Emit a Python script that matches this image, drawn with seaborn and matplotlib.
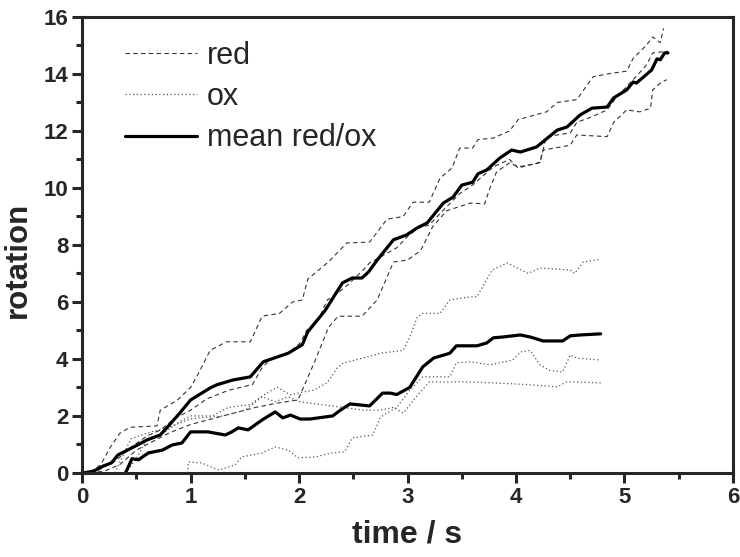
import numpy as np
import pandas as pd
import matplotlib
matplotlib.use('Agg')
import matplotlib.pyplot as plt
from matplotlib.ticker import MultipleLocator
import seaborn as sns

# red runs (dashed)
red_a_t = [0, 0.1, 0.17, 0.26, 0.35, 0.44, 0.69, 0.72, 0.88, 1.0, 1.06, 1.18, 1.33, 1.55, 1.66, 1.82, 1.94, 2.03, 2.08,
           2.27, 2.44, 2.65, 2.75, 2.81, 2.96, 3.05, 3.2, 3.3, 3.41, 3.48, 3.6, 3.65, 3.79, 3.94, 4.02, 4.28, 4.38,
           4.56, 4.71, 4.84, 5.02, 5.08, 5.2, 5.26, 5.33, 5.36]
red_a_r = [0, 0.1, 0.28, 0.9, 1.4, 1.6, 1.65, 2.2, 2.56, 3.0, 3.4, 4.3, 4.6, 4.6, 5.5, 5.6, 6.0, 6.07, 6.8,
           7.4, 8.07, 8.1, 8.6, 8.9, 9.0, 9.5, 9.5, 10.35, 10.7, 11.4, 11.4, 11.7, 11.75, 12.0, 12.4, 12.67, 13.0,
           13.1, 13.9, 14.0, 14.1, 14.55, 15.0, 15.3, 15.1, 15.6]

red_b_t = [0, 0.15, 0.3, 0.45, 0.6, 0.72, 0.85, 1.0, 1.15, 1.35, 1.57, 1.66, 1.73, 1.9, 2.01, 2.07, 2.19, 2.26, 2.31,
           2.45, 2.59, 2.65, 2.75, 2.9, 3.0, 3.1, 3.2, 3.35, 3.48, 3.6, 3.79, 3.94, 4.02, 4.22, 4.28, 4.5, 4.56,
           4.7, 4.84, 4.93, 5.08, 5.2, 5.26, 5.33, 5.4]
red_b_r = [0, 0.1, 0.4, 0.9, 1.3, 1.5, 1.9, 2.2, 2.6, 2.9, 3.1, 3.7, 3.96, 4.2, 4.56, 5.0, 5.47, 6.07, 6.18,
           6.6, 7.12, 7.37, 7.58, 7.9, 8.3, 8.6, 8.7, 9.3, 9.8, 10.1, 10.74, 11.0, 10.7, 10.9, 11.8, 11.93, 12.3,
           12.5, 12.74, 13.2, 13.8, 14.3, 14.74, 14.77, 14.8]

red_c_t = [0, 0.2, 0.35, 0.5, 0.65, 0.8, 1.0, 1.2, 1.4, 1.6, 1.8, 1.99, 2.15, 2.27, 2.36, 2.58, 2.72, 2.87, 3.0,
           3.12, 3.23, 3.36, 3.58, 3.71, 3.76, 3.82, 3.94, 4.02, 4.22, 4.25, 4.5, 4.56, 4.84, 4.9, 5.02, 5.14,
           5.24, 5.26, 5.33, 5.39]
red_c_r = [0, 0.05, 0.3, 0.8, 1.1, 1.4, 1.7, 1.9, 2.1, 2.3, 2.45, 2.56, 3.96, 5.1, 5.5, 5.5, 6.07, 7.4, 7.47,
           7.8, 8.63, 9.2, 9.47, 9.44, 10.0, 10.56, 10.88, 10.74, 10.88, 11.33, 11.5, 11.86, 11.8, 12.3, 12.74, 12.67,
           12.8, 13.44, 13.68, 13.8]

# ox runs (dotted)
ox_a_t = [0.4, 0.5, 0.6, 0.75, 0.9, 1.0, 1.2, 1.35, 1.55, 1.7, 1.8, 1.92, 2.04, 2.13, 2.26, 2.35, 2.41, 2.63, 2.75,
          2.96, 3.02, 3.09, 3.14, 3.3, 3.39, 3.58, 3.64, 3.78, 3.92, 4.11, 4.22, 4.5, 4.54, 4.62, 4.78]
ox_a_r = [0, 0.5, 1.2, 1.4, 1.8, 2.0, 2.0, 2.3, 2.4, 2.8, 3.0, 2.74, 2.84, 2.9, 3.16, 3.68, 3.86, 4.07, 4.2,
          4.3, 4.77, 5.47, 5.6, 5.6, 6.07, 6.18, 6.18, 7.12, 7.37, 7.0, 7.19, 7.12, 7.0, 7.4, 7.5]

ox_b_t = [0.3, 0.45, 0.6, 0.8, 1.0, 1.3, 1.5, 1.66, 1.78, 1.9, 2.0, 2.2, 2.4, 2.6, 2.75, 2.87, 2.96, 3.08, 3.2,
          3.42, 3.48, 3.79, 4.1, 4.38, 4.47, 4.78]
ox_b_r = [0, 1.2, 1.4, 1.6, 1.9, 2.0, 2.2, 2.67, 2.5, 2.67, 2.5, 2.4, 2.3, 2.2, 2.2, 2.3, 2.1, 2.67, 3.19,
          3.19, 3.2, 3.16, 3.1, 3.02, 3.2, 3.16]

ox_c_t = [0.97, 0.98, 1.1, 1.26, 1.41, 1.47, 1.66, 1.78, 1.9, 1.99, 2.15, 2.3, 2.42, 2.49, 2.68, 2.75, 2.9, 3.02,
          3.14, 3.39, 3.45, 3.58, 3.76, 3.97, 4.04, 4.13, 4.22, 4.31, 4.43, 4.5, 4.56, 4.78]
ox_c_r = [0, 0.38, 0.35, 0.1, 0.28, 0.56, 0.7, 0.91, 0.8, 0.53, 0.56, 0.7, 0.74, 1.23, 1.33, 1.96, 2.3, 2.9,
          3.37, 3.37, 3.86, 3.9, 3.79, 3.96, 4.24, 4.3, 3.79, 3.6, 3.54, 4.14, 4.03, 3.96]

# means (solid)
mean_red_t = [0, 0.1, 0.2, 0.27, 0.33, 0.47, 0.6, 0.72, 0.78, 0.9, 1.0, 1.18, 1.24, 1.39, 1.55, 1.67, 1.8, 1.9,
              2.03, 2.08, 2.24, 2.4, 2.49, 2.58, 2.64, 2.72, 2.87, 2.99, 3.09, 3.18, 3.33, 3.42, 3.5, 3.6, 3.65,
              3.73, 3.85, 3.96, 4.04, 4.19, 4.38, 4.47, 4.59, 4.7, 4.84, 4.9, 5.02, 5.08, 5.11, 5.25, 5.3, 5.33,
              5.37, 5.4]
mean_red_r = [0, 0.05, 0.25, 0.35, 0.63, 0.9, 1.16, 1.33, 1.58, 2.1, 2.56, 2.98, 3.09, 3.26, 3.37, 3.9, 4.07, 4.2,
              4.5, 4.95, 5.7, 6.67, 6.84, 6.84, 7.05, 7.47, 8.18, 8.35, 8.6, 8.77, 9.47, 9.68, 10.1, 10.2, 10.5,
              10.63, 11.05, 11.33, 11.26, 11.44, 12.03, 12.14, 12.56, 12.8, 12.84, 13.16, 13.44, 13.72, 13.68, 14.14,
              14.53, 14.5, 14.74, 14.74]

mean_ox_t = [0.4, 0.46, 0.52, 0.61, 0.74, 0.83, 0.92, 1.0, 1.16, 1.32, 1.38, 1.44, 1.53, 1.66, 1.78, 1.85, 1.92,
             2.01, 2.1, 2.31, 2.38, 2.47, 2.65, 2.77, 2.84, 2.9, 3.02, 3.14, 3.24, 3.39, 3.45, 3.64, 3.73, 3.79,
             3.88, 4.04, 4.13, 4.25, 4.43, 4.5, 4.59, 4.78]
mean_ox_r = [0, 0.5, 0.46, 0.7, 0.8, 0.98, 1.05, 1.44, 1.44, 1.33, 1.44, 1.58, 1.51, 1.86, 2.14, 1.93, 2.03,
             1.89, 1.89, 2.0, 2.2, 2.42, 2.35, 2.8, 2.8, 2.75, 3.0, 3.72, 4.03, 4.2, 4.46, 4.46, 4.56, 4.74,
             4.77, 4.84, 4.77, 4.63, 4.63, 4.81, 4.84, 4.88]

sns.set_style('ticks')
plt.rcParams['font.family'] = ['Liberation Sans', 'DejaVu Sans']

fig = plt.figure(figsize=(7.4, 5.57), dpi=100)
ax = fig.add_axes([0.111, 0.151, 0.8795, 0.8185])

runs = [
    (red_a_t, red_a_r, 'red', (0, (4, 3)), '#333333', 0.8),
    (red_b_t, red_b_r, None, (0, (4, 3)), '#333333', 0.8),
    (red_c_t, red_c_r, None, (0, (4, 3)), '#333333', 0.8),
    (ox_a_t, ox_a_r, 'ox', (0, (1, 2)), '#555555', 0.9),
    (ox_b_t, ox_b_r, None, (0, (1, 2)), '#555555', 0.9),
    (ox_c_t, ox_c_r, None, (0, (1, 2)), '#555555', 0.9),
    (mean_red_t, mean_red_r, 'mean red/ox', '-', 'black', 2.3),
    (mean_ox_t, mean_ox_r, None, '-', 'black', 2.3),
]
for t, r, lab, ls, col, lw in runs:
    df = pd.DataFrame({'time': t, 'rotation': r})
    sns.lineplot(data=df, x='time', y='rotation', ax=ax, color=col, linestyle=ls,
                 linewidth=lw, label=lab, legend=False, sort=False, estimator=None)

ax.set_xlim(0, 6)
ax.set_ylim(0, 16)
ax.xaxis.set_major_locator(MultipleLocator(1))
ax.xaxis.set_minor_locator(MultipleLocator(0.5))
ax.yaxis.set_major_locator(MultipleLocator(2))
ax.yaxis.set_minor_locator(MultipleLocator(1))
ax.tick_params(which='major', direction='out', length=7, width=2.2, labelsize=16, pad=3)
ax.tick_params(which='minor', direction='out', length=4, width=2.2)
ax.tick_params(top=False, right=False)
for lbl in ax.get_xticklabels() + ax.get_yticklabels():
    lbl.set_fontweight('bold')
for sp in ax.spines.values():
    sp.set_linewidth(2.2)
    sp.set_visible(True)

ax.set_xlabel('time / s', fontsize=23, fontweight='bold')
ax.set_ylabel('rotation', fontsize=22.5, fontweight='bold')
ax.xaxis.set_label_coords(0.5, -0.102)
ax.yaxis.set_label_coords(-0.075, 0.467)

handles, labels = ax.get_legend_handles_labels()
ax.legend(handles, labels, loc='upper left', bbox_to_anchor=(0.024, 1.008), frameon=False,
          prop={'size': 22}, handlelength=2.35, handletextpad=0.33, labelspacing=0.37)

fig.savefig('out.png', dpi=100)
